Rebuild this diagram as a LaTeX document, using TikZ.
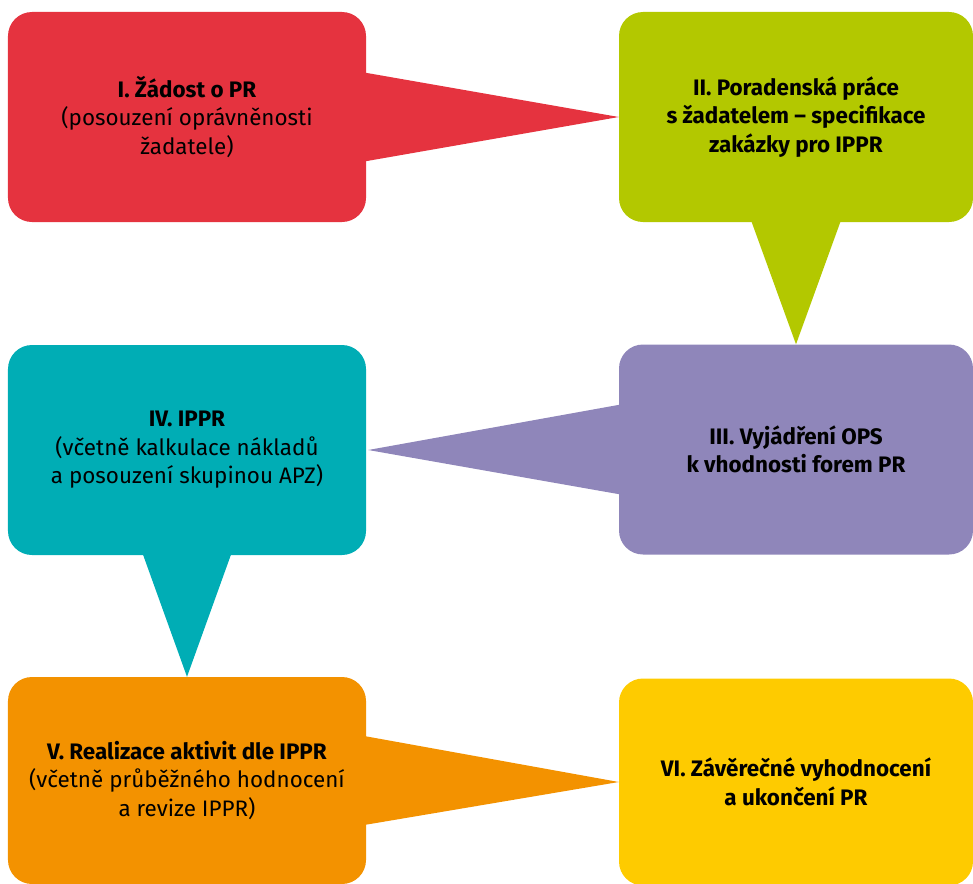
\documentclass[tikz,border=0pt]{standalone}
\usepackage{fontspec}
\setmainfont{Fira Sans}
\definecolor{cred}{HTML}{E5333F}
\definecolor{cgreen}{HTML}{B3C800}
\definecolor{cpurple}{HTML}{8F86BA}
\definecolor{cteal}{HTML}{00ADB5}
\definecolor{corange}{HTML}{F39200}
\definecolor{cyellow}{HTML}{FECB00}
\begin{document}
\begin{tikzpicture}[x=1bp,y=-1bp,
  card/.style={rounded corners=24bp, inner sep=0pt, align=center,
    font=\fontsize{22.5}{28.5}\selectfont, text=black},
  leftcard/.style={card, minimum width=358bp, minimum height=210bp},
  rightcard/.style={card, minimum width=354bp, minimum height=210bp},
]
\useasboundingbox (0,0) rectangle (973,884);
\node[leftcard, fill=cred] (b1) at (187,117)
  {\textbf{I. Žádost o PR}\\(posouzení oprávněnosti\\žadatele)};
\node[rightcard, fill=cgreen] (b2) at (796,117)
  {\textbf{II. Poradenská práce}\\\textbf{s žadatelem – specifikace}\\\textbf{zakázky pro IPPR}};
\node[rightcard, fill=cpurple] (b3) at (796,449.5)
  {\textbf{III. Vyjádření OPS}\\\textbf{k vhodnosti forem PR}};
\node[leftcard, fill=cteal] (b4) at (187,450)
  {\textbf{IV. IPPR}\\(včetně kalkulace nákladů\\a posouzení skupinou APZ)};
\node[leftcard, fill=corange, minimum height=207bp] (b5) at (187,780.5)
  {\textbf{V. Realizace aktivit dle IPPR}\\(včetně průběžného hodnocení\\a revize IPPR)};
\node[rightcard, fill=cyellow, minimum height=207bp] (b6) at (796,782)
  {\textbf{VI. Závěrečné vyhodnocení}\\\textbf{a ukončení PR}};
% pointers
\fill[cred] ([shift={(-2,-44.5)}]b1.east) -- (b2.west) -- ([shift={(-2,44.5)}]b1.east) -- cycle;
\fill[cgreen] ([shift={(-45,-2)}]b2.south) -- (b3.north) -- ([shift={(45,-2)}]b2.south) -- cycle;
\fill[cpurple] ([shift={(2,-45)}]b3.west) -- ([xshift=2bp]b4.east) -- ([shift={(2,45)}]b3.west) -- cycle;
\fill[cteal] ([shift={(-44.5,-2)}]b4.south) -- (b5.north) -- ([shift={(44.5,-2)}]b4.south) -- cycle;
\fill[corange] ([shift={(-2,-44.5)}]b5.east) -- (b6.west) -- ([shift={(-2,44.5)}]b5.east) -- cycle;
\end{tikzpicture}
\end{document}
